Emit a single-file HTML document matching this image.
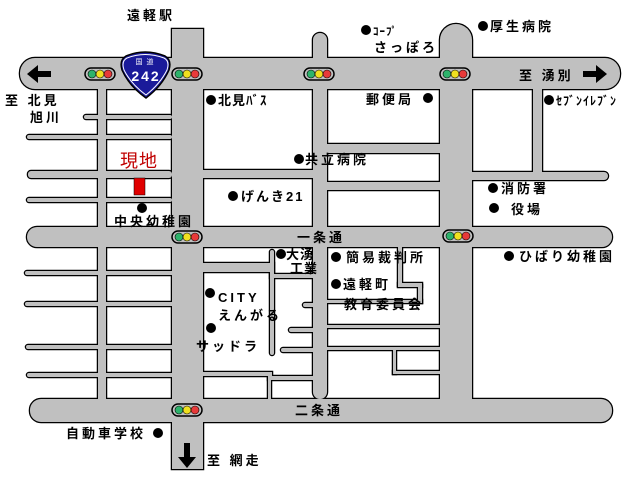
<!DOCTYPE html>
<html><head><meta charset="utf-8"><style>
html,body{margin:0;padding:0;background:#fff;}
svg{display:block;}
text{font-family:"Liberation Sans","Noto Sans CJK JP","IPAGothic",sans-serif;font-size:13px;font-weight:bold;fill:#000;letter-spacing:3px;}
</style></head><body>
<svg width="640" height="480" viewBox="0 0 640 480" xmlns="http://www.w3.org/2000/svg">
<defs>
<g id="roads">
  <rect x="20" y="58" width="600" height="31" rx="15"/>
  <rect x="172" y="29" width="31" height="440"/>
  <rect x="440" y="24" width="32" height="396" rx="16"/>
  <rect x="313" y="33" width="14" height="366" rx="7"/>
  <rect x="27" y="227" width="585" height="20" rx="10"/>
  <rect x="30" y="399" width="582" height="23" rx="11"/>
  <rect x="98" y="80" width="8" height="330"/>
  <rect x="84" y="115" width="88" height="4" rx="2"/>
  <rect x="27" y="135" width="145" height="4" rx="2"/>
  <rect x="28" y="171" width="144" height="7" rx="3"/>
  <rect x="27" y="198" width="145" height="4" rx="2"/>
  <rect x="25" y="271" width="150" height="4" rx="2"/>
  <rect x="25" y="302" width="150" height="4" rx="2"/>
  <rect x="26" y="345" width="150" height="4" rx="2"/>
  <rect x="27" y="373" width="150" height="4" rx="2"/>
  <rect x="200" y="170" width="118" height="8"/>
  <rect x="322" y="144" width="122" height="9"/>
  <rect x="322" y="182" width="122" height="8"/>
  <rect x="533" y="80" width="9" height="96"/>
  <rect x="468" y="172" width="140" height="8" rx="4"/>
  <rect x="200" y="263" width="74" height="9"/>
  <rect x="270" y="250" width="4" height="105" rx="2"/>
  <rect x="270" y="274" width="46" height="4"/>
  <rect x="303" y="303" width="14" height="4" rx="2"/>
  <rect x="289" y="328" width="28" height="4" rx="2"/>
  <rect x="281" y="348" width="36" height="4" rx="2"/>
  <rect x="200" y="372" width="72" height="4"/>
  <rect x="268" y="376" width="48" height="4"/>
  <rect x="268" y="374" width="3" height="28"/>
  <rect x="398" y="244" width="4" height="42"/>
  <rect x="398" y="283" width="24" height="4"/>
  <rect x="418" y="285" width="4" height="18"/>
  <rect x="324" y="300" width="98" height="3"/>
  <rect x="324" y="325" width="120" height="3"/>
  <rect x="324" y="347" width="120" height="3"/>
  <rect x="393" y="348" width="3" height="26"/>
  <rect x="393" y="371" width="51" height="3"/>
</g>
<g id="light">
  <rect x="-15" y="-6" width="30" height="12" rx="6" fill="#c0c0c0" stroke="#000" stroke-width="1.5"/>
  <circle cx="-8" cy="0" r="4" fill="#2db36b" stroke="#000" stroke-width="0.6"/>
  <circle cx="0" cy="0" r="4" fill="#f0e020" stroke="#000" stroke-width="0.6"/>
  <circle cx="8" cy="0" r="4" fill="#e83a3a" stroke="#000" stroke-width="0.6"/>
</g>
</defs>
<use href="#roads" fill="#000" stroke="#000" stroke-width="2.5"/>
<use href="#roads" fill="#c0c0c0" stroke="none"/>

<use href="#light" x="100" y="74"/>
<use href="#light" x="187" y="74"/>
<use href="#light" x="319" y="74"/>
<use href="#light" x="455" y="74"/>
<use href="#light" x="187" y="237"/>
<use href="#light" x="458" y="236"/>
<use href="#light" x="187" y="410"/>

<path d="M126,56 Q145,48 165,56 Q172,60 169,70 Q162,86 146,98 Q129,86 122,70 Q119,60 126,56 Z" fill="#1a1a9a" stroke="#000" stroke-width="1.5"/>
<path d="M127,58 Q145,51 164,58 Q170,61 167,70 Q160,84 146,95 Q131,84 124,70 Q121,61 127,58 Z" fill="none" stroke="#fff" stroke-width="1"/>
<text x="145" y="64" text-anchor="middle" style="font-size:7px;fill:#fff;font-weight:normal;letter-spacing:1px">国 道</text>
<text x="146" y="81" text-anchor="middle" style="font-size:14px;fill:#fff;letter-spacing:2px">242</text>

<path d="M27,74 L38,65 L38,71 L51,71 L51,77 L38,77 L38,83 Z" fill="#000"/>
<path d="M607,74 L596,65 L596,71 L583,71 L583,77 L596,77 L596,83 Z" fill="#000"/>
<path d="M187,468 L178,457 L184,457 L184,443 L190,443 L190,457 L196,457 Z" fill="#000"/>

<rect x="134" y="178" width="11" height="17" fill="#e00000" stroke="#000" stroke-width="0.5"/>
<text x="120" y="167" style="font-size:18px;fill:#c00000;font-weight:normal;letter-spacing:1px">現地</text>

<g fill="#000">
<circle cx="211" cy="100" r="5"/>
<circle cx="142" cy="208" r="5"/>
<circle cx="299" cy="159" r="5"/>
<circle cx="233" cy="196" r="5"/>
<circle cx="366" cy="30" r="5"/>
<circle cx="483" cy="26" r="5"/>
<circle cx="428" cy="98" r="5"/>
<circle cx="549" cy="100" r="5"/>
<circle cx="493" cy="188" r="5"/>
<circle cx="494" cy="208" r="5"/>
<circle cx="509" cy="256" r="5"/>
<circle cx="281" cy="254" r="5"/>
<circle cx="336" cy="257" r="5"/>
<circle cx="336" cy="284" r="5"/>
<circle cx="210" cy="293" r="5"/>
<circle cx="211" cy="328" r="5"/>
<circle cx="158" cy="433" r="5"/>
</g>

<text x="127" y="20">遠軽駅</text>
<text x="5" y="105">至 北見</text>
<text x="30" y="122">旭川</text>
<text x="218" y="105" style="letter-spacing:1px">北見ﾊﾞｽ</text>
<text x="114" y="226">中央幼稚園</text>
<text x="305" y="164">共立病院</text>
<text x="241" y="201" style="letter-spacing:2px">げんき21</text>
<text x="373" y="35" style="font-size:11px;letter-spacing:1px">ｺｰﾌﾟ</text>
<text x="374" y="52">さっぽろ</text>
<text x="490" y="31">厚生病院</text>
<text x="519" y="80">至 湧別</text>
<text x="366" y="104">郵便局</text>
<text x="556" y="105" style="font-size:12px;letter-spacing:1px">ｾﾌﾞﾝｲﾚﾌﾞﾝ</text>
<text x="501" y="193">消防署</text>
<text x="511" y="214">役場</text>
<text x="297" y="242">一条通</text>
<text x="519" y="261">ひばり幼稚園</text>
<text x="286" y="259" style="letter-spacing:1px">大湧</text>
<text x="290" y="273" style="letter-spacing:1px">工業</text>
<text x="346" y="262">簡易裁判所</text>
<text x="343" y="289">遠軽町</text>
<text x="344" y="309">教育委員会</text>
<text x="218" y="302">CITY</text>
<text x="218" y="320">えんがる</text>
<text x="196" y="351">サッドラ</text>
<text x="295" y="415">二条通</text>
<text x="66" y="438">自動車学校</text>
<text x="207" y="465">至 網走</text>
</svg>
</body></html>
